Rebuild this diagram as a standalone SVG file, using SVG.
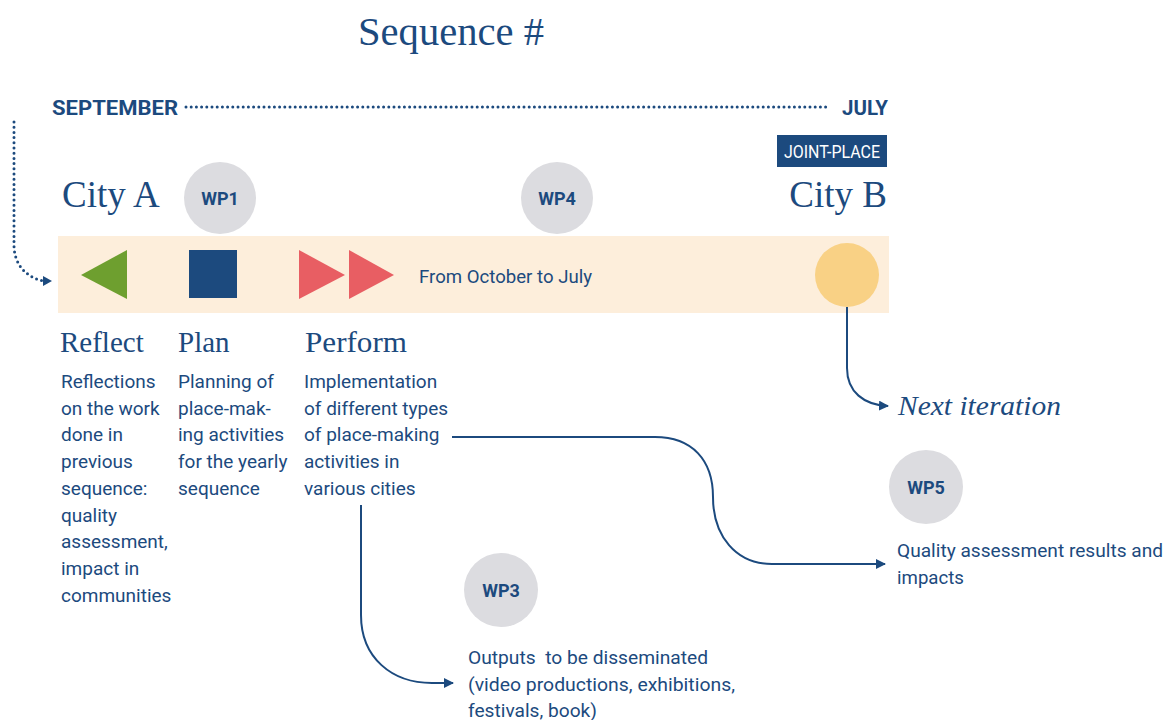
<svg xmlns="http://www.w3.org/2000/svg" width="1170" height="720" viewBox="0 0 1170 720">
<style>
.serif{font-family:"Liberation Serif","DejaVu Serif",serif;fill:#1c4a7e}
.sans{font-family:Roboto,"Liberation Sans",sans-serif;fill:#1c4a7e}
.body{font-family:Roboto,"Liberation Sans",sans-serif;font-size:19px;fill:#1c4a7e}
.wp{font-family:Roboto,"Liberation Sans",sans-serif;font-size:18px;font-weight:bold;fill:#1c4a7e;text-anchor:middle}
.wpc{fill:#dcdce0}
.conn{fill:none;stroke:#1c4a7e;stroke-width:2}
.dots{fill:none;stroke:#1c4a7e;stroke-width:3;stroke-linecap:round;stroke-dasharray:0 5.2}
</style>
<defs>
<marker id="arr" viewBox="0 0 10 10" refX="9" refY="5" markerWidth="10" markerHeight="10" markerUnits="userSpaceOnUse" orient="auto">
<path d="M0,0 L10,5 L0,10 Z" fill="#1c4a7e"/>
</marker>
</defs>
<rect width="1170" height="720" fill="#ffffff"/>

<text class="serif" x="451" y="45" font-size="39" text-anchor="middle" textLength="186" lengthAdjust="spacingAndGlyphs">Sequence #</text>

<g id="timeline">
<text class="sans" x="52" y="115" font-size="21" font-weight="bold" textLength="126" lengthAdjust="spacingAndGlyphs">SEPTEMBER</text>
<line class="dots" x1="186" y1="107" x2="830" y2="107"/>
<text class="sans" x="842" y="115" font-size="21" font-weight="bold" textLength="46" lengthAdjust="spacingAndGlyphs">JULY</text>
</g>

<g id="joint-place">
<rect x="777" y="135" width="110" height="32" fill="#1c4a7e"/>
<text x="832" y="158" font-family="Roboto,'Liberation Sans',sans-serif" font-size="18" fill="#ffffff" text-anchor="middle" textLength="96" lengthAdjust="spacingAndGlyphs">JOINT-PLACE</text>
</g>

<g id="city-a"><text class="serif" x="62" y="207" font-size="37">City A</text></g>
<g id="city-b"><text class="serif" x="887" y="207" font-size="37" text-anchor="end">City B</text></g>

<g id="band"><rect x="58" y="236" width="831" height="77" fill="#fdeedb"/></g>

<g id="wp1"><circle class="wpc" cx="220" cy="198" r="36"/><text class="wp" x="220" y="205">WP1</text></g>
<g id="wp4"><circle class="wpc" cx="557" cy="198" r="36"/><text class="wp" x="557" y="205">WP4</text></g>

<g id="reflect-icon"><polygon points="81,275 127,250 127,299" fill="#6e9f2f"/></g>
<g id="plan-icon"><rect x="189" y="250" width="48" height="48" fill="#1c4a7e"/></g>
<g id="perform-icon">
<polygon points="299,250 345,275 299,299" fill="#e85e63"/>
<polygon points="349,250 394,275 349,299" fill="#e85e63"/>
</g>
<text class="body" x="419" y="283" textLength="173" lengthAdjust="spacingAndGlyphs">From October to July</text>
<g id="city-b-icon"><circle cx="847" cy="275" r="32" fill="#f9d185"/></g>

<g id="reflect">
<text class="serif" x="60" y="352" font-size="29">Reflect</text>
<text class="body" x="61" y="388">Reflections</text>
<text class="body" x="61" y="414.7">on the work</text>
<text class="body" x="61" y="441.4">done in</text>
<text class="body" x="61" y="468.1">previous</text>
<text class="body" x="61" y="494.8">sequence:</text>
<text class="body" x="61" y="521.5">quality</text>
<text class="body" x="61" y="548.2">assessment,</text>
<text class="body" x="61" y="574.9">impact in</text>
<text class="body" x="61" y="601.6">communities</text>
</g>

<g id="plan">
<text class="serif" x="178" y="352" font-size="29">Plan</text>
<text class="body" x="178" y="388">Planning of</text>
<text class="body" x="178" y="414.7">place-mak-</text>
<text class="body" x="178" y="441.4">ing activities</text>
<text class="body" x="178" y="468.1">for the yearly</text>
<text class="body" x="178" y="494.8">sequence</text>
</g>

<g id="perform">
<text class="serif" x="305" y="352" font-size="29" textLength="102" lengthAdjust="spacingAndGlyphs">Perform</text>
<text class="body" x="304" y="388">Implementation</text>
<text class="body" x="304" y="414.7">of different types</text>
<text class="body" x="304" y="441.4">of place-making</text>
<text class="body" x="304" y="468.1">activities in</text>
<text class="body" x="304" y="494.8">various cities</text>
</g>

<g id="next-iteration">
<text class="serif" x="898" y="415" font-size="28" font-style="italic" textLength="163" lengthAdjust="spacingAndGlyphs">Next iteration</text>
</g>

<g id="wp5">
<circle class="wpc" cx="926" cy="487" r="37"/><text class="wp" x="926" y="494">WP5</text>
<text class="body" x="897" y="557" textLength="266" lengthAdjust="spacingAndGlyphs">Quality assessment results and</text>
<text class="body" x="897" y="584" textLength="67" lengthAdjust="spacingAndGlyphs">impacts</text>
</g>

<g id="wp3">
<circle class="wpc" cx="501" cy="590" r="37"/><text class="wp" x="501" y="597">WP3</text>
<text class="body" x="468" y="664" textLength="240" lengthAdjust="spacingAndGlyphs" xml:space="preserve">Outputs  to be disseminated</text>
<text class="body" x="468" y="691" textLength="267" lengthAdjust="spacingAndGlyphs">(video productions, exhibitions,</text>
<text class="body" x="468" y="717" textLength="129" lengthAdjust="spacingAndGlyphs">festivals, book)</text>
</g>

<g id="connectors">
<path class="dots" d="M14,122 V245 C14,266 28,278 44,281"/>
<path d="M43,276 L52,281 L43,286 Z" fill="#1c4a7e"/>
<path class="conn" d="M847,307 V368 C847,392 864,405 888,406" marker-end="url(#arr)"/>
<path class="conn" d="M452,437 H655 C692,437 713,460 713,497 C713,536 736,564 772,564 H885" marker-end="url(#arr)"/>
<path class="conn" d="M361,505 V615 C361,658 392,683 432,683 H453" marker-end="url(#arr)"/>
</g>
</svg>
